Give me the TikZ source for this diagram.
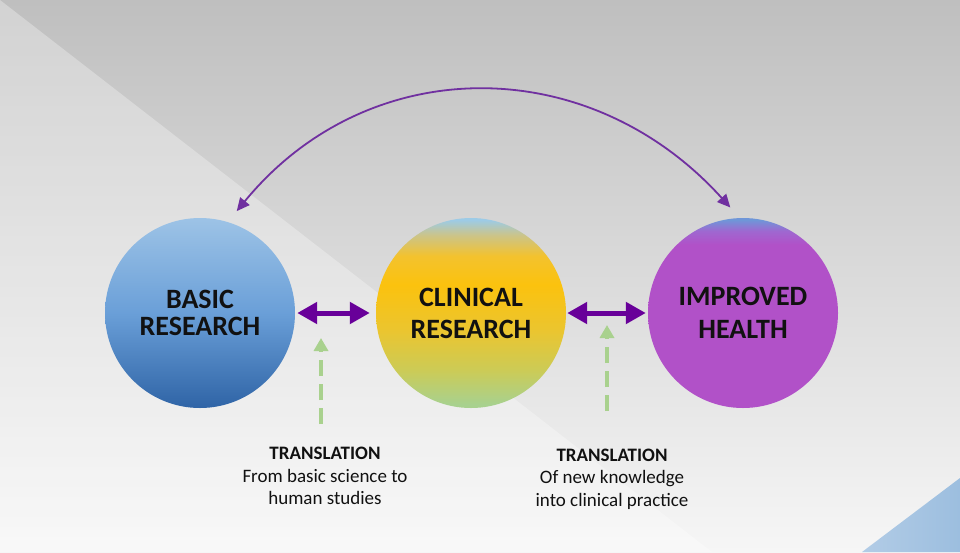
\documentclass[tikz,border=0pt]{standalone}
\usepackage{fontspec}
\setmainfont{Carlito}
\usetikzlibrary{arrows.meta}
\definecolor{bgtop}{HTML}{BFBFBF}
\definecolor{bgmid}{HTML}{CFCFCF}
\definecolor{bgbot}{HTML}{F6F6F6}
\definecolor{triA}{HTML}{B2CCE6}
\definecolor{triB}{HTML}{9CBEDF}
\definecolor{bA}{HTML}{9DC3E6}
\definecolor{bB}{HTML}{6A9FD8}
\definecolor{bC}{HTML}{2F64A6}
\definecolor{cA}{HTML}{9DCBE6}
\definecolor{cB}{HTML}{CBC489}
\definecolor{cC}{HTML}{F3C22E}
\definecolor{cD}{HTML}{FBC20E}
\definecolor{cE}{HTML}{EBC52F}
\definecolor{cF}{HTML}{CCCB56}
\definecolor{cG}{HTML}{A8D18E}
\definecolor{hA}{HTML}{6F96D8}
\definecolor{hB}{HTML}{9F67D0}
\definecolor{hC}{HTML}{B151C8}
\definecolor{dpurple}{HTML}{680099}
\definecolor{apurple}{HTML}{7030A0}
\definecolor{lgreen}{HTML}{A9D18E}
\definecolor{txt}{HTML}{111111}
\pgfdeclareverticalshading{basicsh}{100bp}{color(0bp)=(bC); color(25bp)=(bC); color(50bp)=(bB); color(75bp)=(bA); color(100bp)=(bA)}
\pgfdeclareverticalshading{clinsh}{100bp}{color(0bp)=(cG); color(26bp)=(cG); color(35bp)=(cF); color(45.5bp)=(cE); color(57.5bp)=(cD); color(65bp)=(cC); color(70.5bp)=(cB); color(74.5bp)=(cA); color(100bp)=(cA)}
\pgfdeclareverticalshading{healthsh}{100bp}{color(0bp)=(hC); color(68bp)=(hC); color(71.5bp)=(hB); color(74.5bp)=(hA); color(100bp)=(hA)}
\tikzset{
  ball/.style={circle, minimum size=190pt, inner sep=0pt, shade, align=center, text=txt},
  ballfont/.style={font=\fontsize{28}{#1}\selectfont\bfseries},
  dbl/.style={dpurple, line width=5pt, {Triangle[length=20pt,width=21pt]}-{Triangle[length=20pt,width=21pt]}},
  toparc/.style={apurple, line width=1.8pt, {Triangle[length=13pt,width=12pt]}-{Triangle[length=13pt,width=12pt]}},
  garrow/.style={lgreen, line width=3.5pt, dash pattern=on 16pt off 8pt, -{Triangle[length=13pt,width=14pt]}},
  captext/.style={align=center, text=txt, font=\fontsize{19}{22.5}\selectfont, inner sep=0pt}
}
\begin{document}
\begin{tikzpicture}[x=1pt,y=-1pt]
\useasboundingbox (0,0) rectangle (960,552);
\shade[top color=bgtop, middle color=bgmid, bottom color=bgbot] (0,0) rectangle (960,552);
\fill[white, opacity=0.3] (0,0) -- (712,552) -- (0,552) -- cycle;
\shade[left color=triA, right color=triB] (862,552) -- (960,478) -- (960,552) -- cycle;

\node[ball, shading=basicsh, ballfont=27] (basic) at (200,313) {BASIC\\RESEARCH};
\node[ball, shading=clinsh, ballfont=32] (clinical) at (471,313) {CLINICAL\\RESEARCH};
\node[ball, shading=healthsh, ballfont=33] (health) at (743,313) {IMPROVED\\HEALTH};

\draw[dbl, shorten <=2pt, shorten >=6pt] (basic) -- (clinical);
\draw[dbl, shorten <=1pt, shorten >=2pt] (clinical) -- (health);

\draw[toparc, shorten <=14pt, shorten >=14pt] (basic.73) .. controls (368,51) and (589,51) .. (health.92);

\coordinate (gLs) at (321,424);
\coordinate (gLe) at (321,338);
\coordinate (gRs) at (607,411);
\coordinate (gRe) at (607,325);
\draw[garrow] (gLs) -- (gLe);
\draw[garrow] (gRs) -- (gRe);

\node[captext] (capL) at (325,476) {\textbf{TRANSLATION}\\From basic science to\\human studies};
\node[captext] (capR) at (612,479) {\textbf{TRANSLATION}\\Of new knowledge\\into clinical practice};
\end{tikzpicture}
\end{document}
